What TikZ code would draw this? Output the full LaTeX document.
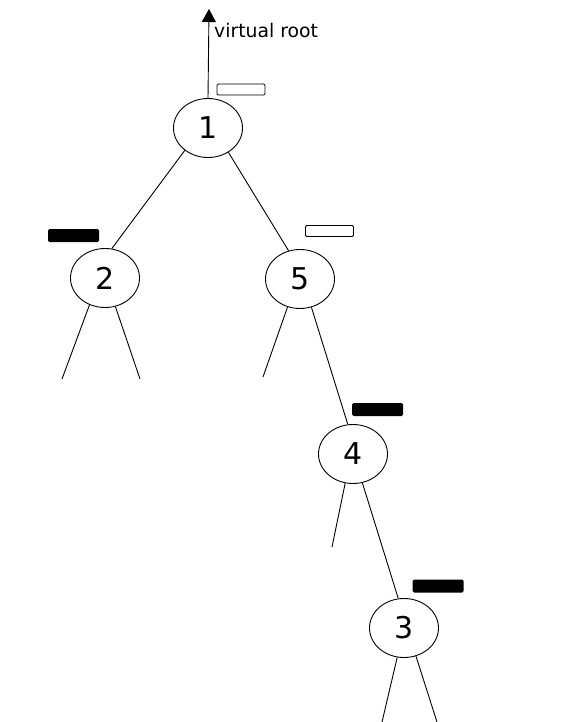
\documentclass[tikz,border=0pt]{standalone}
\usepackage{fontspec}
\setmainfont{DejaVu Sans}
\usetikzlibrary{shapes.geometric,arrows.meta}

\tikzset{
  treenode/.style={ellipse, draw, line width=0.9pt, minimum width=69pt,
    minimum height=59pt, inner sep=0pt, font=\fontsize{30}{36}\selectfont},
  edge/.style={line width=0.9pt},
  flagwhite/.style={draw, fill=white, line width=0.9pt, rounded corners=1.2pt,
    minimum width=48pt, minimum height=11pt, inner sep=0pt},
  flagblack/.style={fill=black, rounded corners=1.5pt,
    minimum width=51pt, minimum height=13pt, inner sep=0pt},
  rootlabel/.style={font=\fontsize{18.8}{22}\selectfont, inner sep=0pt, anchor=base west}
}

\begin{document}
\begin{tikzpicture}[x=1pt, y=-1pt]
  \useasboundingbox (0,0) rectangle (583,722);

  % tree nodes
  \node[treenode] (n1) at (208,128) {1};
  \node[treenode] (n2) at (105,278) {2};
  \node[treenode] (n5) at (300,279) {5};
  \node[treenode] (n4) at (353,454) {4};
  \node[treenode] (n3) at (404,628) {3};

  % colour flags beside the nodes
  \node[flagwhite] (f1) at (241,89.5) {};
  \node[flagblack] (f2) at (73.5,235.5) {};
  \node[flagwhite] (f5) at (329.5,231) {};
  \node[flagblack] (f4) at (377.5,409.5) {};
  \node[flagblack] (f3) at (438,586) {};

  % arrow to the virtual root
  \coordinate (vr) at (209,9);
  \draw[edge, -{Triangle[width=14pt,length=13pt]}] (n1.north) -- (vr);
  \node[rootlabel] (vrl) at (214,38) {virtual root};

  % inner edges
  \draw[edge] (n1.224) -- (n2.77);
  \draw[edge] (n1.310) -- (n5.112.5);
  \draw[edge] (n5.292.5) -- (n4.100);
  \draw[edge] (n4.288) -- (n3.101);

  % dangling subtrees
  \coordinate (l2a) at (62,379);
  \coordinate (l2b) at (140,379);
  \coordinate (l5a) at (263,377);
  \coordinate (l4a) at (332,547);
  \coordinate (l3a) at (382,722);
  \coordinate (l3b) at (437,722);
  \draw[edge] (n2.240) -- (l2a);
  \draw[edge] (n2.290) -- (l2b);
  \draw[edge] (n5.246) -- (l5a);
  \draw[edge] (n4.255.5) -- (l4a);
  \draw[edge] (n3.257) -- (l3a);
  \draw[edge] (n3.293) -- (l3b);
\end{tikzpicture}
\end{document}
